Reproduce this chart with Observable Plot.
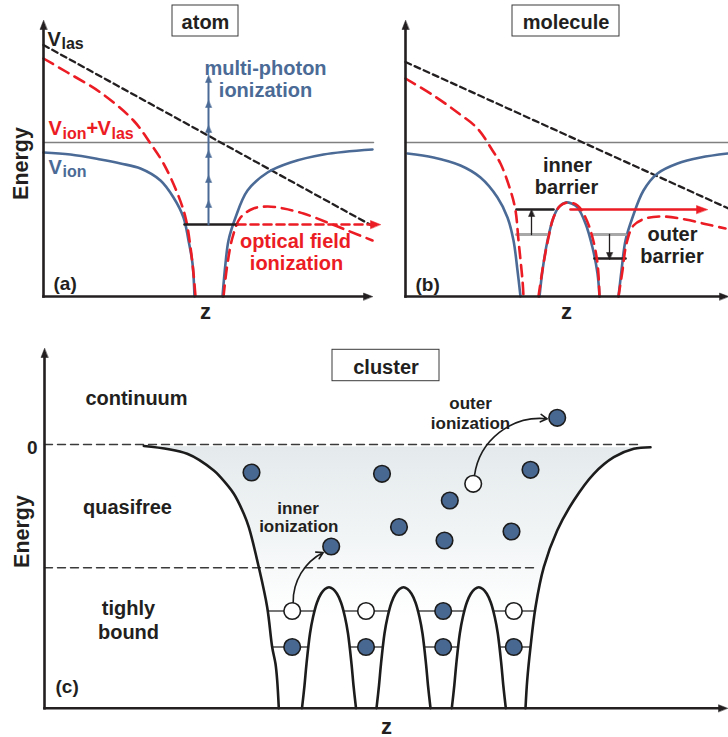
<!DOCTYPE html>
<html><head><meta charset="utf-8">
<script src="https://cdn.jsdelivr.net/npm/d3@7"></script>
<script src="https://cdn.jsdelivr.net/npm/@observablehq/plot@0.6"></script>
<style>
html,body{margin:0;padding:0;background:#fff;overflow:hidden;}
#fig{position:relative;width:728px;height:737px;}
#fig svg{position:absolute;left:0;top:0;}
</style></head><body><div id="fig"></div>
<script>
// ---------- data (z, energy), arbitrary units ----------
// panel (a) atom
const atomVionLeft  = [[0,-10],[27,-12],[57,-17],[77,-21],[97,-26],[117,-38],[130,-55],[140,-75],[145,-98],[149,-121],[151,-154]];
const atomVionRight = [[179,-154],[182,-121],[185,-98],[192,-75],[204,-48],[224,-30],[247,-20],[280,-12],[329,-7]];
const atomVlas      = [[0,97.5],[330,-84]];
const atomSumLeft   = [[0,84],[24,70],[57,50],[90,22],[107,-1],[120,-21],[134,-51],[142,-75],[147,-105],[150,-131],[152,-154]];
const atomSumRight  = [[180,-154],[184,-121],[189,-95],[197,-75],[210,-66],[224,-64],[240,-66],[260,-71],[284,-80],[304,-88],[329,-98]];
const atomLevel     = [[141,-82],[194,-82]];
const atomOFI       = [[194,-82],[337,-82]];
const mpiZ = 165, mpiStart = -82;
const mpiTips = [-58,-33,-8,17,42,67];

// panel (b) molecule
const molVionLeft    = [[2,-11],[28,-15],[55,-23],[75,-35],[92,-55],[102,-75],[108,-98],[112,-128],[115,-154]];
const molVionBarrier = [[134,-154],[137,-128],[142,-98],[148,-75],[153,-65],[160,-60],[166,-61],[172,-65],[180,-81],[187,-105],[192,-131],[194,-154]];
const molVionRight   = [[213,-154],[216,-128],[220,-98],[227,-75],[238,-48],[252,-31],[272,-21],[295,-15],[322,-11]];
const molVlas        = [[0,80.5],[323,-66]];
const molSumLeft     = [[0,64],[28,47],[52,30],[72,14],[87,-8],[95,-21],[105,-48],[110,-68],[113,-98],[117,-138],[118,-154]];
const molSumBarrier  = [[133,-154],[138,-121],[143,-95],[148,-75],[155,-63],[163,-60],[172,-63],[180,-75],[187,-95],[192,-121],[194,-154]];
const molSumRight    = [[213,-154],[217,-128],[221,-101],[228,-83],[240,-76],[258,-74],[280,-77],[302,-82],[320,-86]];
const molLevelsBlack = [[[111,-67],[148,-67]], [[189,-116],[220,-116]]];
const molLevelsGray  = [[[111,-92],[143,-92]], [[188,-92],[220,-92]]];
const molRedArrow    = [[165,-67],[302,-67]];
const molShiftUp     = [126,-92,-69];
const molShiftDown   = [204,-92,-115];

// panel (c) cluster
const clusterLeftWall  = [[99.3,-1.5],[142.7,-9.3],[169.3,-26],[176,-32.7],[189.3,-49.3],[199.3,-69.3],[204.3,-82.7],[214.3,-122.7],[222.7,-162.7],[227.7,-202.7],[231,-219.3],[232.7,-236],[234.3,-263.7]];
const clusterRightWall = [[481,-263.7],[482.7,-236],[486,-202.7],[491,-162.7],[499.3,-122.7],[512.7,-86],[529.3,-56],[549.3,-29.3],[569.3,-12.7],[589.3,-4.3],[606,-2.7]];
const barrierCenters   = [284.5, 359, 434.3];
const barrierHalfWidth = [0,4,8,12,16,19,22.5,24.5,27];
const barrierEnergy    = [-142.7,-144.5,-149.3,-158,-172.7,-189,-219.3,-241,-263.7];
const levelEnergy      = [-166.5, -202.5];
const upperSpans = [[223,270],[299,345],[373,420],[449,491]];
const lowerSpans = [[228,264],[305,338],[380,414],[455,486]];
const boundZ     = [247.7, 321.5, 398.7, 469.3];
const upperOpen  = [true, true, false, true];
const quasiFree  = [[207,-28],[337.5,-29.3],[354.5,-82.5],[286.7,-102],[405.3,-56],[400,-96],[486,-25.3],[467,-87]];
const quasiOpen  = [[428.7,-39.3]];
const continuumE = [[512.7,26.7]];
const innerIon   = {z1:248.7, E1:-158, z2:278.7, E2:-108};
const outerIon   = {z1:430, E1:-31, z2:502.7, E2:25.7};
const zeroLine   = [[0,0],[596,0]];
const boundLine  = [[0,-123.3],[492.7,-123.3]];

// ---------- styling ----------
const INK = "#231f20", BLUE = "#4b6b96", RED = "#ec1c24", GRAY = "#808080", LGRAY = "#a8a8a8", EBLUE = "#486791";
const FONT = "'Liberation Sans', Arial, Helvetica, sans-serif";

const L = (pts, o) => Plot.line(pts, {x: d => d[0], y: d => d[1], ...o});
function heads(list) {
  const pts = [];
  list.forEach(([z, E, dir, len, w], i) => {
    let v;
    if (dir === "up") v = [[z,E],[z-w/2,E-len],[z+w/2,E-len]];
    if (dir === "down") v = [[z,E],[z-w/2,E+len],[z+w/2,E+len]];
    if (dir === "right") v = [[z,E],[z-len,E+w/2],[z-len,E-w/2]];
    v.forEach(p => pts.push({z: p[0], E: p[1], k: i}));
  });
  return pts;
}
const H = (list, color) => Plot.line(heads(list), {x: "z", y: "E", z: "k", fill: color, stroke: color, strokeWidth: 0.5, curve: "linear-closed"});
function label(l) {
  return Plot.text([l], {x: "z", y: "E", text: "t", fontSize: l.s ?? 20, fill: l.c ?? INK, fontWeight: "bold",
    fontFamily: FONT, textAnchor: l.a ?? "middle", lineAnchor: l.la ?? "bottom", dx: l.dx ?? 0, dy: l.dy ?? 0, rotate: l.r ?? 0});
}
const box = (b) => Plot.rect([b], {x1: "z1", x2: "z2", y1: "E1", y2: "E2", fill: "white", stroke: "#3a3a3a", strokeWidth: 1});
function axes(zMax, Ebot, Etop) {
  return [
    L([[0, Ebot], [0, Etop - 6]], {stroke: INK, strokeWidth: 2.6, strokeLinecap: "square"}),
    L([[0, Ebot], [zMax - 6, Ebot]], {stroke: INK, strokeWidth: 2.6, strokeLinecap: "square"}),
    H([[0, Etop, "up", 9, 7], [zMax, Ebot, "right", 9, 7]], INK)
  ];
}
const base = (xd, xr, yd, yr) => ({
  width: 728, height: 737,
  x: {domain: xd, range: xr, axis: null},
  y: {domain: yd, range: yr, axis: null},
  style: {background: "transparent", overflow: "visible"}
});
const smooth = "catmull-rom";

// ---------- panel (a) ----------
const figA = Plot.plot({
  ...base([0,330],[43,373],[-154,122],[296,20]),
  marks: [
    L([[0,0],[330,0]], {stroke: GRAY, strokeWidth: 1.5}),
    L(atomVlas, {stroke: INK, strokeWidth: 2.3, strokeDasharray: "6,4"}),
    L(atomVionLeft, {stroke: BLUE, strokeWidth: 2.6, curve: smooth}),
    L(atomVionRight, {stroke: BLUE, strokeWidth: 2.6, curve: smooth}),
    L(atomSumLeft, {stroke: RED, strokeWidth: 2.6, strokeDasharray: "11,7", curve: smooth}),
    L(atomSumRight, {stroke: RED, strokeWidth: 2.6, strokeDasharray: "11,7", curve: smooth}),
    L(atomLevel, {stroke: INK, strokeWidth: 2.6}),
    L([[atomOFI[0][0], atomOFI[0][1]], [atomOFI[1][0] - 8, atomOFI[1][1]]], {stroke: RED, strokeWidth: 2.6, strokeDasharray: "8,5"}),
    H([[atomOFI[1][0], atomOFI[1][1], "right", 10, 8]], RED),
    L([[mpiZ, mpiStart], [mpiZ, mpiTips[mpiTips.length-1] - 4]], {stroke: BLUE, strokeWidth: 2}),
    H(mpiTips.map(t => [mpiZ, t, "up", 7, 6]), BLUE),
    ...axes(329, -154, 122),
    box({z1: 129, z2: 195, E1: 106, E2: 137}),
    ...[
      {z: 162, E: 114, t: "atom"},
      {z: -22, E: -21, t: "Energy", s: 21.5, r: -90, la: "middle"},
      {z: 4, E: 97, t: "V", a: "start"},
      {z: 4, E: 97, t: "las", a: "start", s: 16, dx: 14, dy: 3},
      {z: 5, E: 8, t: "V", a: "start", c: RED},
      {z: 5, E: 8, t: "ion", a: "start", s: 16, dx: 14, dy: 4, c: RED},
      {z: 5, E: 8, t: "+", a: "start", dx: 38, c: RED},
      {z: 5, E: 8, t: "V", a: "start", dx: 49, c: RED},
      {z: 5, E: 8, t: "las", a: "start", s: 16, dx: 63, dy: 4, c: RED},
      {z: 5, E: -31.5, t: "V", a: "start", c: BLUE},
      {z: 5, E: -31.5, t: "ion", a: "start", s: 16, dx: 14, dy: 3, c: BLUE},
      {z: 222, E: 68, t: "multi-photon", c: BLUE},
      {z: 222, E: 46, t: "ionization", c: BLUE},
      {z: 252, E: -105, t: "optical field", c: RED},
      {z: 253, E: -127, t: "ionization", c: RED},
      {z: 10, E: -147, t: "(a)", a: "start", s: 19},
      {z: 162, E: -176, t: "z", s: 22}
    ].map(label)
  ]
});

// ---------- panel (b) ----------
const figB = Plot.plot({
  ...base([0,323],[405,728],[-154,122],[296,20]),
  marks: [
    L([[0,0],[323,0]], {stroke: GRAY, strokeWidth: 1.5}),
    L(molVlas, {stroke: INK, strokeWidth: 2.3, strokeDasharray: "6,4"}),
    L(molVionLeft, {stroke: BLUE, strokeWidth: 2.6, curve: smooth}),
    L(molVionBarrier, {stroke: BLUE, strokeWidth: 2.6, curve: smooth}),
    L(molVionRight, {stroke: BLUE, strokeWidth: 2.6, curve: smooth}),
    ...molLevelsGray.map(s => L(s, {stroke: LGRAY, strokeWidth: 3})),
    ...molLevelsBlack.map(s => L(s, {stroke: INK, strokeWidth: 2.6})),
    L(molSumLeft, {stroke: RED, strokeWidth: 2.6, strokeDasharray: "11,7", curve: smooth}),
    L(molSumBarrier, {stroke: RED, strokeWidth: 2.6, strokeDasharray: "11,7", curve: smooth}),
    L(molSumRight, {stroke: RED, strokeWidth: 2.6, strokeDasharray: "11,7", curve: smooth}),
    L([molRedArrow[0], [molRedArrow[1][0] - 9, molRedArrow[1][1]]], {stroke: RED, strokeWidth: 2.6}),
    H([[molRedArrow[1][0], molRedArrow[1][1], "right", 11, 8]], RED),
    L([[molShiftUp[0], molShiftUp[1]], [molShiftUp[0], molShiftUp[2]]], {stroke: INK, strokeWidth: 1.3}),
    L([[molShiftDown[0], molShiftDown[1]], [molShiftDown[0], molShiftDown[2]]], {stroke: INK, strokeWidth: 1.3}),
    H([[molShiftUp[0], molShiftUp[2] + 2, "up", 7, 6], [molShiftDown[0], molShiftDown[2] - 2, "down", 7, 6]], INK),
    ...axes(323, -154, 122),
    box({z1: 107, z2: 214, E1: 106, E2: 137}),
    ...[
      {z: 160.5, E: 114, t: "molecule"},
      {z: 162, E: -29, t: "inner"},
      {z: 161, E: -51, t: "barrier"},
      {z: 267, E: -98, t: "outer"},
      {z: 266.5, E: -120, t: "barrier"},
      {z: 10, E: -148, t: "(b)", a: "start", s: 19},
      {z: 161, E: -176, t: "z", s: 22}
    ].map(label)
  ]
});

// ---------- panel (c) ----------
const barriers = barrierCenters.map(c => {
  const n = barrierHalfWidth.length, pts = [];
  for (let i = n - 1; i >= 0; i--) pts.push([c - barrierHalfWidth[i], barrierEnergy[i]]);
  for (let i = 1; i < n; i++) pts.push([c + barrierHalfWidth[i], barrierEnergy[i]]);
  return pts;
});
const electron = (pts, open) => Plot.dot(pts, {x: d => d[0], y: d => d[1], r: 8.3, fill: open ? "white" : EBLUE, stroke: "#1c1c1c", strokeWidth: 1.6});
const figC = Plot.plot({
  ...base([0,683],[44,727],[-263.7,96],[707.7,348]),
  marks: [
    L([...clusterLeftWall, ...clusterRightWall], {fill: "url(#qfgrad)", stroke: "none", curve: smooth}),
    L(zeroLine, {stroke: "#3a3a3a", strokeWidth: 1.4, strokeDasharray: "8,5"}),
    L(boundLine, {stroke: "#3a3a3a", strokeWidth: 1.4, strokeDasharray: "8,5"}),
    ...upperSpans.map(s => L([[s[0], levelEnergy[0]], [s[1], levelEnergy[0]]], {stroke: "#4a4a4a", strokeWidth: 1.3})),
    ...lowerSpans.map(s => L([[s[0], levelEnergy[1]], [s[1], levelEnergy[1]]], {stroke: "#4a4a4a", strokeWidth: 1.3})),
    L(clusterLeftWall, {stroke: "#1c1c1c", strokeWidth: 2.6, curve: smooth}),
    L(clusterRightWall, {stroke: "#1c1c1c", strokeWidth: 2.6, curve: smooth}),
    ...barriers.map(b => L(b, {stroke: "#1c1c1c", strokeWidth: 2.6, curve: smooth})),
    Plot.arrow([innerIon], {x1: "z1", y1: "E1", x2: "z2", y2: "E2", bend: 32, stroke: "#1c1c1c", strokeWidth: 1.6, headLength: 7}),
    Plot.arrow([outerIon], {x1: "z1", y1: "E1", x2: "z2", y2: "E2", bend: 44, stroke: "#1c1c1c", strokeWidth: 1.6, headLength: 7}),
    electron(boundZ.filter((z, i) => !upperOpen[i]).map(z => [z, levelEnergy[0]]), false),
    electron(boundZ.filter((z, i) => upperOpen[i]).map(z => [z, levelEnergy[0]]), true),
    electron(boundZ.map(z => [z, levelEnergy[1]]), false),
    electron(quasiFree, false),
    electron(quasiOpen, true),
    electron(continuumE, false),
    ...axes(683, -263.7, 96),
    box({z1: 288, z2: 395, E1: 63.3, E2: 94.7}),
    ...[
      {z: 341.5, E: 71, t: "cluster"},
      {z: 92, E: 40, t: "continuum"},
      {z: -7, E: -9, t: "0", a: "end", s: 19},
      {z: 83, E: -69.3, t: "quasifree"},
      {z: 84, E: -170, t: "tighly"},
      {z: 84, E: -194, t: "bound"},
      {z: 11, E: -248, t: "(c)", a: "start", s: 19},
      {z: -22, E: -87, t: "Energy", s: 21.5, r: -90, la: "middle"},
      {z: 342, E: -289, t: "z", s: 22},
      {z: 253.5, E: -69, t: "inner", s: 17},
      {z: 254.3, E: -87.7, t: "ionization", s: 17},
      {z: 426, E: 36, t: "outer", s: 17},
      {z: 426, E: 16, t: "ionization", s: 17}
    ].map(label)
  ]
});
// gradient for the quasifree region
{
  const defs = d3.select(figC).insert("defs", ":first-child");
  const g = defs.append("linearGradient").attr("id", "qfgrad").attr("gradientUnits", "userSpaceOnUse")
    .attr("x1", 0).attr("x2", 0).attr("y1", 444).attr("y2", 615);
  g.append("stop").attr("offset", 0).attr("stop-color", "#e4eaec");
  g.append("stop").attr("offset", 0.55).attr("stop-color", "#f2f5f6");
  g.append("stop").attr("offset", 1).attr("stop-color", "#ffffff");
}
const fig = document.getElementById("fig");
fig.append(figC, figA, figB);
</script></body></html>
